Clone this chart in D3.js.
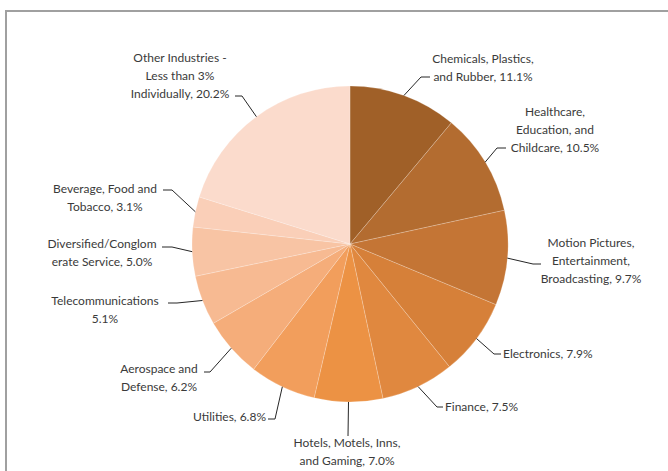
<!DOCTYPE html>
<html lang="en">

<head>
    <meta charset="UTF-8">
    <title>Industries</title>
    <style>
        body { margin: 0; background: #fff; }
        .label { font-family: Lato, "Liberation Sans", sans-serif; font-size: 12px; fill: #3a3a3a; }
    </style>
</head>

<body>
    <svg id="chart" width="668" height="471"></svg>

    <script src="https://d3js.org/d3.v7.min.js"></script>
    <script>
    var categories = ["Chemicals, Plastics, and Rubber", "Healthcare, Education, and Childcare",
        "Motion Pictures, Entertainment, Broadcasting", "Electronics", "Finance",
        "Hotels, Motels, Inns, and Gaming", "Utilities", "Aerospace and Defense",
        "Telecommunications", "Diversified/Conglomerate Service", "Beverage, Food and Tobacco",
        "Other Industries - Less than 3% Individually"];
    var values = [11.1, 10.5, 9.7, 7.9, 7.5, 7.0, 6.8, 6.2, 5.1, 5.0, 3.1, 20.2];
    var labelLines = [
        ["Chemicals, Plastics,", "and Rubber, 11.1%"],
        ["Healthcare,", "Education, and", "Childcare, 10.5%"],
        ["Motion Pictures,", "Entertainment,", "Broadcasting, 9.7%"],
        ["Electronics, 7.9%"],
        ["Finance, 7.5%"],
        ["Hotels, Motels, Inns,", "and Gaming, 7.0%"],
        ["Utilities, 6.8%"],
        ["Aerospace and", "Defense, 6.2%"],
        ["Telecommunications", "5.1%"],
        ["Diversified/Conglom", "erate Service, 5.0%"],
        ["Beverage, Food and", "Tobacco, 3.1%"],
        ["Other Industries -", "Less than 3%", "Individually, 20.2%"]
    ];
    var colors = ["#a06028", "#b36c30", "#c47535", "#d68039", "#e0883f", "#ec9244",
        "#f29e5c", "#f5ad7a", "#f7ba92", "#f8c4a4", "#facfb8", "#fbdbcc"];

    // label placement: text x/y (first line), anchor, leader elbow and end
    var labelPos = [
        {x: 483, y: 59, anchor: "middle", elbow: [421, 77], end: [430, 77]},
        {x: 555, y: 112, anchor: "middle", elbow: [497, 148], end: [506, 148]},
        {x: 591, y: 243, anchor: "middle", elbow: [533, 264], end: [541, 264]},
        {x: 503, y: 354, anchor: "start", elbow: [494, 354], end: [501, 354]},
        {x: 445, y: 407, anchor: "start", elbow: [437, 407], end: [443, 407]},
        {x: 347, y: 443, anchor: "middle", elbow: [348, 436], end: [348, 436]},
        {x: 266, y: 417, anchor: "end", elbow: [275, 419], end: [268, 419]},
        {x: 159, y: 369, anchor: "middle", elbow: [210, 372], end: [204, 372]},
        {x: 105, y: 301, anchor: "middle", elbow: [177, 303], end: [168, 303]},
        {x: 102, y: 244, anchor: "middle", elbow: [172, 247], end: [162, 247]},
        {x: 105, y: 189, anchor: "middle", elbow: [172, 190], end: [163, 190]},
        {x: 180, y: 58, anchor: "middle", elbow: [242, 96], end: [235, 96]}
    ];

    var cx = 350, cy = 244, radius = 158, lineH = 18;

    var svg = d3.select("#chart");

    // frame
    svg.append("path")
        .attr("d", "M6,471V11H668")
        .attr("fill", "none")
        .attr("stroke", "#a0a0a0")
        .attr("stroke-width", 2);

    var data = categories.map(function(c, i) {
        return {name: c, value: values[i], lines: labelLines[i], pos: labelPos[i]};
    });

    var pie = d3.pie()
        .sort(null)
        .value(function(d) { return d.value; });

    var arc = d3.arc().innerRadius(0).outerRadius(radius);
    var edge = d3.arc().innerRadius(radius).outerRadius(radius);

    var color = d3.scaleOrdinal()
        .domain(categories)
        .range(colors);

    var arcs = pie(data);

    var g = svg.append("g")
        .attr("transform", "translate(" + cx + "," + cy + ")");

    g.selectAll("path.slice")
        .data(arcs)
        .enter().append("path")
        .attr("class", "slice")
        .attr("d", arc)
        .attr("fill", function(d) { return color(d.data.name); })
        .attr("stroke", "#fff")
        .attr("stroke-opacity", 0.3)
        .attr("stroke-width", 0.7);

    // leader lines
    svg.selectAll("polyline.leader")
        .data(arcs)
        .enter().append("polyline")
        .attr("class", "leader")
        .attr("points", function(d) {
            var c = edge.centroid(d);
            var p = d.data.pos;
            return [[cx + c[0], cy + c[1]], p.elbow, p.end].join(" ");
        })
        .attr("fill", "none")
        .attr("stroke", "#262626")
        .attr("stroke-width", 1);

    var labels = svg.selectAll("text.label")
        .data(data)
        .enter().append("text")
        .attr("class", "label")
        .attr("text-anchor", function(d) { return d.pos.anchor; });

    labels.selectAll("tspan")
        .data(function(d) {
            return d.lines.map(function(l, i) { return {text: l, x: d.pos.x, y: d.pos.y + i * lineH}; });
        })
        .enter().append("tspan")
        .attr("x", function(d) { return d.x; })
        .attr("y", function(d) { return d.y; })
        .attr("dy", "0.35em")
        .text(function(d) { return d.text; });
    </script>
</body>

</html>
